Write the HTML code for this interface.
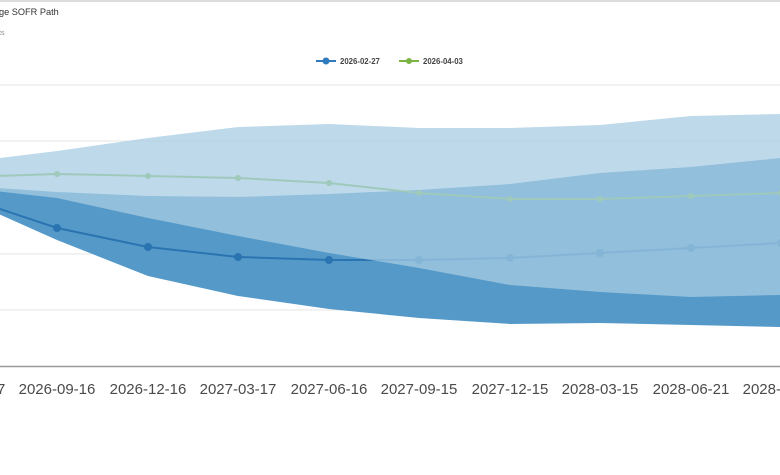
<!DOCTYPE html><html><head><style>body{margin:0;background:#fff;width:780px;height:470px;overflow:hidden;font-family:"Liberation Sans",sans-serif}</style></head><body>
<svg width="780" height="470" xmlns="http://www.w3.org/2000/svg" font-family="Liberation Sans, sans-serif">
<line x1="0" y1="1" x2="780" y2="1" stroke="#ddd" stroke-width="2"/>
<text x="-1" y="15" font-size="9.2" fill="#333">ge SOFR Path</text>
<text x="-1" y="35" font-size="7" fill="#888">ts</text>
<line x1="316" y1="61" x2="336" y2="61" stroke="#2f7bbd" stroke-width="2"/><circle cx="326" cy="61" r="3.5" fill="#2f7bbd"/>
<text x="340" y="64" font-size="7.8" font-weight="bold" fill="#444">2026-02-27</text>
<line x1="399" y1="61" x2="419" y2="61" stroke="#7cb342" stroke-width="2"/><circle cx="409" cy="61" r="3" fill="#7cb342"/>
<text x="423" y="64" font-size="7.8" font-weight="bold" fill="#444">2026-04-03</text>
<g stroke="#e6e6e6" stroke-width="1">
<line x1="0" y1="85" x2="780" y2="85"/><line x1="0" y1="141" x2="780" y2="141"/><line x1="0" y1="197" x2="780" y2="197"/><line x1="0" y1="254" x2="780" y2="254"/><line x1="0" y1="310" x2="780" y2="310"/></g>
<polygon fill="#5599c8" points="-33,186 57,192 148,196 238,197 329,194 419,190 510,184 600,173 691,167 781,158 781,327 691,325 600,323 510,324 419,318 329,309 238,296 148,276 57,240 -33,200"/>
<g fill="none" stroke-width="2"><polyline stroke="#2a74b2" points="-33,198 57,228 148,247 238,257 329,260 419,260 510,258 600,253 691,248 781,243"/>
<polyline stroke="#8cc04a" points="-33,177 57,174 148,176 238,178 329,183 419,193 510,199 600,199 691,196 781,193"/></g>
<g fill="#2a74b2"><circle cx="57" cy="228" r="4"/><circle cx="148" cy="247" r="4"/><circle cx="238" cy="257" r="4"/><circle cx="329" cy="260" r="4"/><circle cx="419" cy="260" r="4"/><circle cx="510" cy="258" r="4"/><circle cx="600" cy="253" r="4"/><circle cx="691" cy="248" r="4"/><circle cx="781" cy="243" r="4"/></g>
<g fill="#8cc04a"><circle cx="57" cy="174" r="3"/><circle cx="148" cy="176" r="3"/><circle cx="238" cy="178" r="3"/><circle cx="329" cy="183" r="3"/><circle cx="419" cy="193" r="3"/><circle cx="510" cy="199" r="3"/><circle cx="600" cy="199" r="3"/><circle cx="691" cy="196" r="3"/><circle cx="781" cy="193" r="3"/></g>
<polygon fill="rgb(166,204,226)" fill-opacity="0.74" points="-33,162 57,151 148,138 238,127 329,124 419,128 510,128 600,125 691,116 781,114 781,295 691,297 600,292 510,285 419,268 329,253 238,236 148,218 57,198 -33,188"/>
<line x1="0" y1="366.5" x2="780" y2="366.5" stroke="#999" stroke-width="1.5"/>
<g font-size="15" fill="#4a4a4a" text-anchor="middle">
<text x="-33" y="394">2026-06-17</text><text x="57" y="394">2026-09-16</text><text x="148" y="394">2026-12-16</text><text x="238" y="394">2027-03-17</text><text x="329" y="394">2027-06-16</text><text x="419" y="394">2027-09-15</text><text x="510" y="394">2027-12-15</text><text x="600" y="394">2028-03-15</text><text x="691" y="394">2028-06-21</text><text x="781" y="394">2028-09-20</text></g>
</svg></body></html>
